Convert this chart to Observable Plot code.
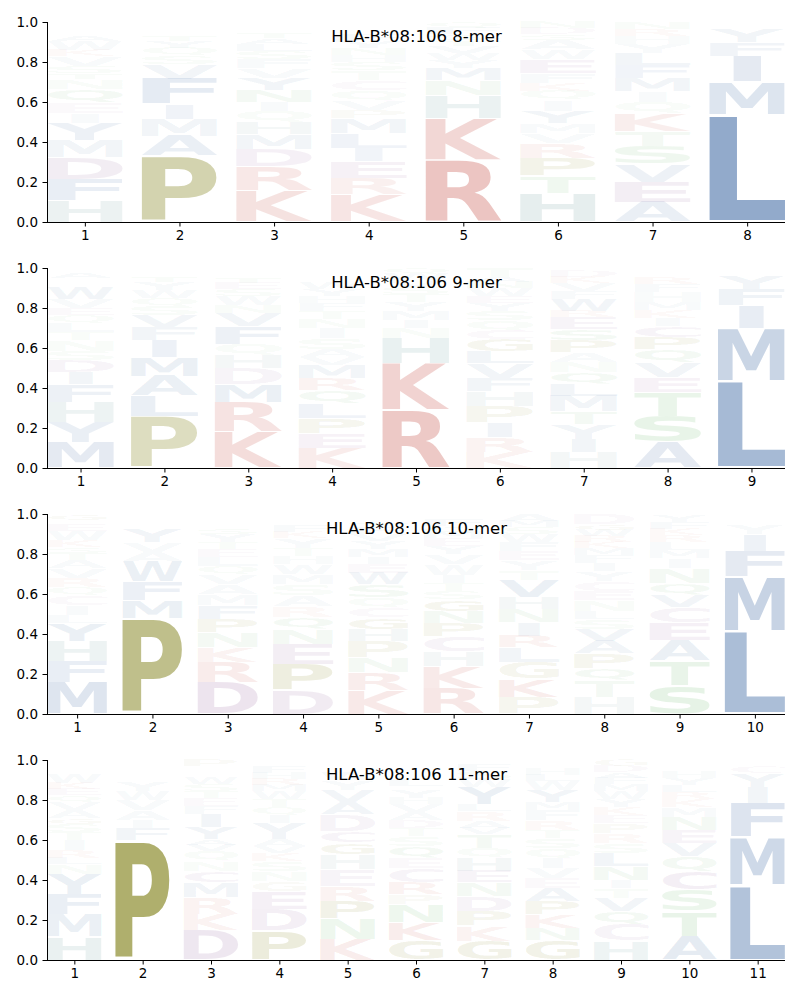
<!DOCTYPE html>
<html><head><meta charset="utf-8">
<script src="https://cdn.jsdelivr.net/npm/d3@7"></script>
<script src="https://cdn.jsdelivr.net/npm/@observablehq/plot@0.6"></script>
<style>
body{margin:0;background:#fff;font-family:"DejaVu Sans",sans-serif;}
#chart svg{display:block;}
</style></head><body><div id="chart"></div>
<script>
// ---------- data (bottom → top stack for each position: letter + frequency) ----------
const allele = "HLA-B*08:106";
const lengths = [8, 9, 10, 11];

const mer8 = [
  "H.108 F.105 D.108 M.085 Y.09 I.05 E.055 Q.063 N.05 T.03 S.035 V.05 K.03 W.045 A.03 R.025 C.02 L.02",
  "P.33 A.1 M.086 I.075 F.125 V.075 S.04 Q.04 Y.035 T.03 W.025 L.025 G.015",
  "K.156 R.12 D.09 M.075 H.06 Q.055 I.045 N.06 Y.06 V.05 F.045 S.04 L.035 A.03 T.03 W.025 E.025",
  "K.136 R.083 E.083 I.066 L.075 M.075 P.04 V.05 Q.05 C.05 T.05 S.04 H.035 N.035 Y.035 F.03 A.025 W.02 D.022",
  "R.31 K.21 H.115 N.075 M.06 Y.04 W.035 V.035 T.03 S.03 F.03 Q.03",
  "H.145 T.085 P.09 R.075 V.05 M.05 Y.06 I.055 Q.045 K.04 F.05 E.07 W.05 A.045 S.03 D.03 N.03",
  "A.1 E.1 V.09 S.09 T.075 K.09 Q.055 I.055 M.065 F.065 L.06 Y.045 H.04 R.035 N.035",
  "L.535 M.165 I.13 F.07 Y.065 W.013 V.012 A.01"
];
const mer9 = [
  "M.13 Y.1 H.1 F.09 I.06 D.06 S.045 N.055 T.04 L.045 Q.04 E.035 V.045 W.06 K.025 R.02 A.03 C.02",
  "P.26 L.1 A.1 M.093 I.085 F.065 V.06 S.045 Q.04 W.04 Y.04 T.03 G.022 E.02",
  "K.18 R.15 M.09 D.078 H.066 Q.055 F.09 V.066 N.04 W.045 S.035 E.03 T.03 A.025 I.02",
  "K.1 E.075 P.075 L.075 Q.066 R.058 M.066 V.04 A.04 S.055 I.05 N.045 T.04 F.04 H.035 Y.035 W.035 D.025 G.025 C.02",
  "R.29 K.235 H.125 N.05 I.04 M.045 Y.045 T.04 S.035 V.035 W.03 Q.03",
  "K.08 R.075 I.072 P.08 H.075 F.066 V.075 L.06 G.06 C.045 Q.05 S.045 Y.04 E.035 W.04 N.03 A.027 T.045",
  "H.08 I.066 Y.075 T.06 M.08 L.058 Q.06 N.05 A.05 P.058 S.058 E.058 R.03 W.06 F.04 V.04 K.03 D.03 C.017",
  "A.13 S.13 T.12 E.075 V.075 Q.063 P.06 C.058 I.04 K.04 M.04 H.05 F.04 R.03 W.025 Y.024",
  "L.435 M.265 I.115 F.08 Y.07 W.012 V.012 A.011"
];
const mer10 = [
  "M.16 F.105 H.1 Y.09 L.04 I.05 C.05 Q.04 R.045 V.05 A.04 T.035 S.03 K.035 W.045 E.03 N.025 G.03",
  "P.48 M.09 F.095 W.1 A.045 V.05 Y.07 T.015 S.015 L.012 Q.01 I.01 G.008",
  "D.16 R.1 K.075 N.075 P.066 F.066 M.055 A.05 V.05 Q.04 L.045 E.04 T.035 Y.04 S.03 I.025 H.02 G.024",
  "D.12 P.13 E.1 N.075 Q.058 R.055 A.055 S.055 M.05 W.05 H.04 T.04 Y.05 K.03 F.03 I.02 L.02 G.022",
  "K.118 R.09 N.075 P.083 H.058 G.058 C.05 Q.05 S.066 W.058 E.045 I.035 M.04 Y.04 V.035 F.03 T.029 L.02 A.02",
  "R.13 K.11 H.075 C.075 P.066 N.058 G.058 S.04 T.04 I.04 W.055 V.05 Y.04 E.04 M.03 Q.03 F.03 L.025",
  "P.085 K.09 G.083 L.075 R.058 I.066 N.066 H.058 V.09 T.05 Y.05 E.045 F.045 W.04 S.035 M.03 A.034",
  "H.085 T.083 Q.058 P.075 A.065 V.058 S.05 L.04 N.055 E.045 C.05 Y.05 I.04 F.04 M.035 K.03 R.03 W.03 G.03 D.05",
  "S.143 T.125 A.1 E.09 C.075 V.063 Q.06 N.075 I.05 M.04 L.04 R.035 K.03 F.035 Y.035",
  "L.413 M.274 F.128 I.083 Y.05 W.02 V.015 A.015"
];
const mer11 = [
  "H.116 M.113 F.1 Y.1 N.05 L.03 R.04 I.05 T.04 S.04 G.03 A.04 V.04 Q.035 E.03 K.03 W.05 D.025 C.02 P.021",
  "P.6 F.06 I.04 A.05 V.05 W.045 Y.05 T.025 S.02 Q.02 L.02 G.02",
  "D.146 K.083 R.083 M.075 C.058 N.05 Q.05 V.03 A.03 Y.058 I.066 F.04 E.04 T.035 S.035 W.03 H.025 G.02 L.015 P.031",
  "P.146 D.108 E.09 G.05 N.05 S.05 K.04 V.035 A.035 Y.08 I.04 Q.04 T.04 W.04 M.03 R.03 H.03 F.03 L.02 C.016",
  "K.105 N.1 P.09 R.075 E.083 H.075 G.058 C.058 D.083 A.06 V.06 Y.05 W.04 S.02 T.02 Q.02",
  "G.1 K.09 N.09 P.05 R.06 C.07 E.05 Q.06 S.05 T.04 D.04 A.04 V.04 H.03 Y.04 W.02 L.03 M.02 F.02 I.01",
  "G.096 K.075 P.075 D.075 N.066 E.058 H.066 Q.05 T.066 V.033 A.033 R.05 L.033 Y.09 W.04 S.04 F.03 M.025",
  "G.1 N.06 K.066 P.066 A.066 E.05 V.05 I.05 Q.05 S.05 T.04 R.05 F.05 M.04 Y.062 W.045 L.03 H.03 D.02 C.025",
  "H.096 C.083 Q.066 V.066 T.05 I.04 N.066 L.066 S.05 R.05 P.05 E.04 K.04 Y.04 W.04 M.035 F.03 A.03 D.03 G.032",
  "A.12 T.125 S.108 C.09 Q.075 V.066 E.066 N.066 M.05 K.04 R.035 L.035 Y.035 H.03 F.025 W.02 G.014",
  "L.375 M.24 F.17 I.08 Y.07 C.035 W.015 V.015"
];
const panels = [mer8, mer9, mer10, mer11];
const yTicks = [0, 0.2, 0.4, 0.6, 0.8, 1.0];

// residue classes → colours
const residueClass = {
  A:"hyd", V:"hyd", L:"hyd", I:"hyd", M:"hyd", F:"hyd", W:"hyd", Y:"hyd",
  K:"basic", R:"basic", D:"acid", E:"acid", C:"acid",
  S:"polar", T:"polar", N:"polar", Q:"polar", P:"pro", G:"pro", H:"his"
};
const classColor = {hyd:"#33609e", basic:"#c2443a", acid:"#8d5796", polar:"#50aa50", pro:"#7a7a0c", his:"#508c8c"};
const residues = Object.keys(residueClass);

// ---------- glyph measurement ----------
const FONT = "DejaVu Sans";
const ctx = document.createElement("canvas").getContext("2d");
ctx.font = `bold 100px '${FONT}'`;
const inkCache = {};
function ink(ch) {
  if (!inkCache[ch]) {
    const m = ctx.measureText(ch);
    inkCache[ch] = {l: m.actualBoundingBoxLeft, r: m.actualBoundingBoxRight, a: m.actualBoundingBoxAscent, d: m.actualBoundingBoxDescent};
  }
  return inkCache[ch];
}
const NS = "http://www.w3.org/2000/svg";
function glyphRender(rows) {
  return (index, scales, values) => {
    const g = document.createElementNS(NS, "g");
    g.setAttribute("text-anchor", "start");
    const E = ink("E"), eW = E.l + E.r;
    for (const i of index) {
      const ch = rows[i].aa, m = ink(ch);
      const iw = m.l + m.r, ih = m.a + m.d;
      const x1 = Math.min(values.x1[i], values.x2[i]), x2 = Math.max(values.x1[i], values.x2[i]);
      const yt = Math.min(values.y1[i], values.y2[i]), yb = Math.max(values.y1[i], values.y2[i]);
      const bh = yb - yt, pad = bh * 0.02;
      const sx = (x2 - x1) / Math.max(iw, eW);
      const sy = (bh - 2 * pad) / ih;
      const gx = (x1 + x2) / 2 - iw * sx / 2;
      const t = document.createElementNS(NS, "text");
      t.setAttribute("transform", `translate(${gx},${yt + pad}) scale(${sx},${sy}) translate(${m.l},${m.a})`);
      t.setAttribute("text-anchor", "start");
      t.setAttribute("font-family", FONT);
      t.setAttribute("font-weight", "bold");
      t.setAttribute("font-size", 100);
      t.setAttribute("fill", values.fill[i]);
      t.setAttribute("fill-opacity", values.fillOpacity[i]);
      t.textContent = ch;
      g.appendChild(t);
    }
    return g;
  };
}

// ---------- build panels ----------
const root = document.getElementById("chart");
panels.forEach((cols, k) => {
  const n = lengths[k];
  const rows = [];
  cols.forEach((s, j) => {
    const pos = j + 1;
    let acc = 0;
    for (const tok of s.split(" ")) {
      const aa = tok[0], h = +tok.slice(1);
      rows.push({pos, aa, h, x1: pos - 0.4, x2: pos + 0.4, y1: acc, y2: acc + h});
      acc += h;
    }
  });
  const xDomain = [0.6, n + 0.4];
  const plot = Plot.plot({
    width: 800, height: 246,
    marginLeft: 47, marginRight: 15, marginTop: 22, marginBottom: 24,
    style: {fontFamily: FONT, fontSize: "13.5px", color: "black", background: "white"},
    x: {domain: xDomain, ticks: d3.range(1, n + 1), tickFormat: "d", tickSize: 4.5, tickPadding: 3.5, label: null},
    y: {domain: [0, 1], ticks: yTicks, tickFormat: ".1f", tickSize: 4.5, tickPadding: 5, label: null},
    color: {type: "ordinal", domain: residues, range: residues.map(r => classColor[residueClass[r]])},
    opacity: {type: "linear", domain: [0, 0.6], range: [0.04, 0.72], clamp: true},
    marks: [
      Plot.rect(rows, {x1: "x1", x2: "x2", y1: "y1", y2: "y2", fill: "aa", fillOpacity: "h", render: glyphRender(rows)}),
      Plot.ruleX([xDomain[0]], {stroke: "black"}),
      Plot.ruleY([0], {stroke: "black"}),
      Plot.text([`${allele} ${n}-mer`], {frameAnchor: "top", lineAnchor: "top", dy: 8, fontSize: 16.5, fill: "black"})
    ]
  });
  root.appendChild(plot);
});
</script></body></html>
